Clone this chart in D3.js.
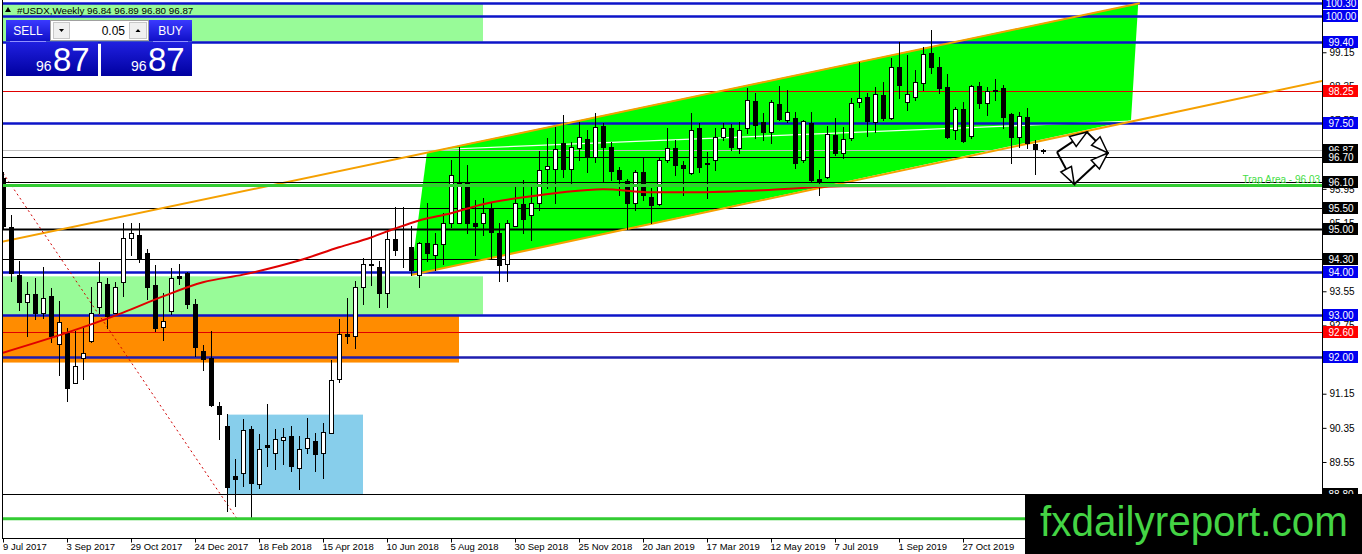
<!DOCTYPE html>
<html><head><meta charset="utf-8">
<script src="https://cdn.jsdelivr.net/npm/d3@7"></script>
<style>
html,body{margin:0;padding:0;background:#fff;overflow:hidden}
svg{display:block;font-family:"Liberation Sans",Arial,sans-serif}
</style></head><body>
<svg id="c" width="1362" height="554"></svg>
<script>
// ---------- DATA ----------
const symbolTitle = "#USDX,Weekly";
const lastQuote = [96.84, 96.89, 96.80, 96.87];
const tickDates = ["9 Jul 2017","3 Sep 2017","29 Oct 2017","24 Dec 2017","18 Feb 2018","15 Apr 2018","10 Jun 2018","5 Aug 2018","30 Sep 2018","25 Nov 2018","20 Jan 2019","17 Mar 2019","12 May 2019","7 Jul 2019","1 Sep 2019","27 Oct 2019"];
const tickEvery = 8;
const openP = [96.20,95.05,93.92,93.31,93.48,93.03,93.43,92.32,92.58,91.41,
91.99,92.39,93.19,93.73,93.05,93.76,94.81,94.86,94.44,93.69,
92.72,93.08,93.90,93.97,93.26,92.16,91.99,90.87,90.40,89.23,
89.30,90.33,89.04,89.95,89.77,90.07,90.17,89.41,89.88,90.05,
89.77,90.24,91.50,92.56,92.51,93.66,94.20,94.11,93.50,94.77,
94.48,94.58,93.94,94.67,94.41,94.65,95.16,95.16,96.10,95.14,
95.16,95.49,94.91,94.20,95.09,95.59,95.33,95.63,96.41,96.41,
97.02,96.41,96.90,97.11,96.69,97.42,96.93,96.39,96.13,95.61,
96.34,95.75,95.59,96.62,96.90,96.50,96.31,97.37,96.55,96.62,
97.16,97.37,96.90,97.37,98.01,97.51,97.28,97.93,97.56,97.61,
96.62,97.49,96.17,96.22,97.21,96.78,97.14,97.98,98.10,97.51,
98.15,97.61,98.80,97.98,98.10,98.43,99.13,98.80,98.33,97.33,
97.82,97.18,98.36,97.96,98.26,98.31,97.70,97.16,97.63,97.00,
96.84];
const highP = [96.34,95.33,94.27,93.76,93.87,94.11,93.62,93.33,92.70,92.63,
92.68,93.64,94.23,93.85,93.76,95.14,95.14,95.14,94.53,94.16,
93.50,94.09,94.20,93.99,93.38,92.28,92.63,90.96,90.68,89.63,
90.56,90.40,90.21,90.92,90.33,90.35,90.40,90.17,90.59,90.24,
90.47,91.93,92.89,93.40,93.80,94.32,95.02,94.27,94.98,95.52,
95.52,95.07,94.70,95.63,94.91,95.38,96.62,96.93,96.50,95.68,
95.73,95.61,95.16,95.21,96.03,96.15,96.01,96.83,97.14,97.39,
97.68,97.04,97.51,97.33,97.72,97.49,97.04,96.46,96.17,96.39,
96.67,95.96,96.67,97.37,97.09,96.60,97.72,97.49,96.81,97.37,
97.49,97.47,97.51,98.31,98.19,97.72,98.03,98.36,98.26,97.75,
97.56,97.75,96.39,97.42,97.61,97.39,98.08,98.92,98.19,98.33,
98.45,99.01,99.39,99.08,98.73,99.27,99.67,99.04,98.64,97.86,
97.98,98.38,98.45,98.33,98.52,98.38,97.72,97.75,97.84,97.09,
96.89];
const lowP = [95.02,93.80,93.10,92.51,92.91,92.93,92.37,91.60,90.99,91.39,
91.50,92.35,93.03,92.70,93.03,93.45,94.39,94.23,93.38,92.63,
92.41,93.01,93.73,93.15,92.04,91.71,90.87,90.09,88.40,88.52,
88.99,88.24,88.94,89.46,89.39,89.51,89.34,88.92,89.77,89.34,
89.18,90.24,91.43,92.33,92.23,93.26,93.69,93.17,93.17,94.39,
94.13,93.94,93.66,94.27,94.04,94.20,95.05,95.14,94.91,94.39,
94.86,94.32,93.80,93.80,95.07,94.91,94.74,95.45,95.96,95.63,
96.22,96.08,96.62,96.34,96.57,96.13,96.15,95.80,95.02,95.45,
95.68,95.14,95.56,96.57,96.27,95.80,96.29,96.34,95.73,96.39,
97.09,96.86,96.78,97.25,97.14,97.09,97.02,97.56,97.51,96.43,
96.57,96.10,95.80,96.20,96.74,96.67,97.09,97.86,97.18,97.28,
97.56,97.58,98.08,97.79,98.03,98.26,98.66,98.19,97.14,97.11,
97.04,97.14,97.84,97.68,98.03,97.37,96.55,96.92,96.90,96.29,
96.80];
const closeP = [95.09,93.97,93.29,93.48,93.05,93.40,92.51,92.82,91.29,91.81,
92.11,93.03,93.76,92.98,93.64,94.79,94.91,94.34,93.64,92.70,
92.86,93.87,93.85,93.26,92.25,91.97,90.89,90.68,88.97,89.16,
90.31,89.06,89.86,89.91,90.09,90.14,89.46,89.86,90.12,89.74,
90.26,91.48,92.54,92.51,93.64,94.20,94.16,93.52,94.77,94.51,
94.46,94.04,94.67,94.44,94.65,95.16,96.27,96.08,95.14,95.09,
95.38,94.93,94.16,95.16,95.61,95.24,95.63,96.39,96.48,96.88,
96.41,96.93,97.16,96.69,97.39,96.93,96.36,96.17,95.63,96.34,
95.80,95.56,96.62,96.90,96.50,96.43,97.33,96.46,96.53,97.16,
97.37,96.93,97.33,98.03,97.44,97.28,97.98,97.58,97.75,96.55,
97.54,96.15,96.13,97.23,96.78,97.11,97.96,98.08,97.54,98.17,
97.61,98.80,98.38,98.17,98.45,99.11,98.80,98.31,97.16,97.82,
97.07,98.36,97.96,98.24,98.24,97.63,97.16,97.65,97.02,96.88,
96.87];
// moving average (bar index, value)
const maIdx = [0,8,15,20,25,30,37,42,46,49,52,56,60,67,70,75,81,87,95,105,130];
const maVal = [92.11,92.58,93.05,93.43,93.76,93.94,94.27,94.58,94.81,95.02,95.21,95.38,95.59,95.80,95.87,95.94,95.87,95.87,95.92,96.01,96.02];
// default price-scale ticks
const axisTicks = [99.15,98.35,97.55,96.75,95.95,95.15,94.35,93.55,92.75,91.95,91.15,90.35,89.55,88.75];
// horizontal levels
const levelPrices = [100.30,100.00,99.40,98.25,97.50,96.70,96.10,95.50,95.00,94.30,94.00,93.00,92.60,92.00,88.80];
const levelKinds  = ["blue","blue","blue","red","blue","black","black","black","blackBold","black","blue","blue","red","navy","black"];
const trapLevel = 96.03, trapText = "Trap Area - 96.03";
const bottomGreenLevel = 88.22;
// zones: [startBar, endBar, topPrice, bottomPrice]
const zoneStart  = [-1, -1, -1, 28];
const zoneEnd    = [60, 60, 57, 45];
const zoneTop    = [100.30, 93.90, 93.00, 90.66];
const zoneBottom = [99.40, 93.00, 91.88, 88.80];
const zoneKinds  = ["pale","pale","orange","sky"];
// channel (bar, price)
const channelPoly = [[53,96.81],[141.9,100.30],[141,97.56],[51,93.93]];
const upperTrend = [[-0.375,94.70],[142.1,100.30]];
const lowerTrend = [[51,93.93],[164.9,98.48]];
const midTrend = [[53,96.86],[141,97.54]];
const dottedTrend = [[0,96.32],[29.25,88.22]];
// projection arrows
const projPts = {L:[131.75,96.81], T:[135.5,97.28], R:[138.1,96.79], B:[133.9,96.06]};
const projPaths = [["L","T"],["T","R"],["L","B"],["B","R"]];

// ---------- SETUP ----------
const svg = d3.select("#c");
const W = 1362, H = 554, plotL = 2, plotR = 1322, plotB = 538;
const x = d3.scaleLinear().domain([0,130]).range([3,1043]);
const y = d3.scaleLinear().domain([88.80,100.00]).range([494,16]);
const col = {blue:"#0c14c8", navy:"#1e1eb0", red:"#e00000", black:"#000", blackBold:"#000"};
const boxCol = {blue:"#0000f0", navy:"#0000f0", red:"#ff0000", black:"#000", blackBold:"#000"};
const zoneCol = {pale:"#98fb98", orange:"#ff8c00", sky:"#87ceeb"};

svg.append("rect").attr("width",W).attr("height",H).attr("fill","#fff");
const defs = svg.append("defs");
defs.append("clipPath").attr("id","plot").append("rect")
  .attr("x",plotL).attr("y",0).attr("width",plotR-plotL).attr("height",plotB);
const mk = defs.append("marker").attr("id","ah").attr("markerUnits","userSpaceOnUse")
  .attr("markerWidth",24).attr("markerHeight",24).attr("refX",0).attr("refY",0)
  .attr("viewBox","-20 -10 24 20").attr("orient","auto");
mk.append("path").attr("d","M0,0 L-17,-6 L-17,6 Z").attr("fill","#fff").attr("stroke","#000").attr("stroke-width",1.5);

const g = svg.append("g").attr("clip-path","url(#plot)");

// zones
zoneStart.forEach((s,i)=>{
  g.append("rect").attr("x",x(s)).attr("y",y(zoneTop[i]))
   .attr("width",x(zoneEnd[i])-x(s)).attr("height",y(zoneBottom[i])-y(zoneTop[i]))
   .attr("fill",zoneCol[zoneKinds[i]]);
});
// channel fill
g.append("path").attr("d", d3.line().x(d=>x(d[0])).y(d=>y(d[1]))(channelPoly)+"Z").attr("fill","#00ff00");
// mid white line
g.append("path").attr("d", d3.line().x(d=>x(d[0])).y(d=>y(d[1]))(midTrend)).attr("stroke","#f4fff4").attr("stroke-width",1.2).attr("fill","none");

const maPath = d3.line().x(d=>x(d[0])).y(d=>y(d[1])).curve(d3.curveMonotoneX);

// horizontal levels
const hl = (p,c,w)=> g.append("line").attr("x1",plotL).attr("x2",plotR)
  .attr("y1",Math.round(y(p))+0.5).attr("y2",Math.round(y(p))+0.5).attr("stroke",c).attr("stroke-width",w);
hl(lastQuote[3],"#c0c0c0",1);
levelPrices.forEach((p,i)=>{
  const k = levelKinds[i];
  hl(p, col[k], (k==="blue"||k==="navy")?2.5:(k==="blackBold"?2:1));
});

// trend lines
const tl = d3.line().x(d=>x(d[0])).y(d=>y(d[1]));
g.append("path").attr("d",tl(upperTrend)).attr("stroke","#f5a000").attr("stroke-width",2).attr("fill","none");
g.append("path").attr("d",tl(lowerTrend)).attr("stroke","#f5a000").attr("stroke-width",2).attr("fill","none");
g.append("path").attr("d",tl(dottedTrend)).attr("stroke","#d00000").attr("stroke-width",1).attr("stroke-dasharray","2,3").attr("fill","none");

// candles
const cg = g.append("g");
openP.forEach((o,i)=>{
  const h=highP[i], l=lowP[i], c=closeP[i];
  const cx = Math.round(x(i))+0.5;
  cg.append("line").attr("x1",cx).attr("x2",cx).attr("y1",Math.round(y(h))).attr("y2",Math.round(y(l))+1).attr("stroke","#000");
  const top = Math.round(y(Math.max(o,c)))+0.5, bot = Math.round(y(Math.min(o,c)))+0.5;
  const bull = c>o;
  cg.append("rect").attr("x",cx-2).attr("y",top).attr("width",4).attr("height",Math.max(0,bot-top))
    .attr("fill",bull?"#fff":"#000").attr("stroke","#000").attr("stroke-width",1);
});

// moving average
g.append("path").datum(maIdx.map((d,i)=>[d,maVal[i]]))
  .attr("d", maPath)
  .attr("stroke","#e00000").attr("stroke-width",2).attr("fill","none");

// green levels on top of MA
hl(trapLevel,"#33cc33",3);
g.append("line").attr("x1",plotL).attr("x2",1030).attr("y1",y(bottomGreenLevel)).attr("y2",y(bottomGreenLevel)).attr("stroke","#33cc33").attr("stroke-width",3);
hl(96.10,"#000",1);

// projection arrows
projPaths.forEach(([a,b])=>{
  const p1=projPts[a], p2=projPts[b];
  g.append("line").attr("x1",x(p1[0])).attr("y1",y(p1[1])).attr("x2",x(p2[0])).attr("y2",y(p2[1]))
   .attr("stroke","#000").attr("stroke-width",2).attr("marker-end","url(#ah)");
});

// trap text
svg.append("text").attr("x",1320).attr("y",y(trapLevel)-2).attr("text-anchor","end")
  .attr("font-size",10).attr("fill","#44dd44").text(trapText);

// ---------- AXES ----------
svg.append("line").attr("x1",plotR+0.5).attr("x2",plotR+0.5).attr("y1",0).attr("y2",plotB).attr("stroke","#000");
svg.append("line").attr("x1",plotL+0.5).attr("x2",plotL+0.5).attr("y1",0).attr("y2",plotB).attr("stroke","#000");
svg.append("line").attr("x1",plotL).attr("x2",plotR+1).attr("y1",plotB+0.5).attr("y2",plotB+0.5).attr("stroke","#000");
const ya = svg.append("g").attr("transform",`translate(${plotR+0.5},0)`)
  .call(d3.axisRight(y).tickValues(axisTicks).tickFormat(d3.format(".2f")).tickSize(4).tickPadding(3));
ya.select(".domain").remove();
ya.selectAll("text").attr("font-size",10).attr("font-family","Liberation Sans, Arial, sans-serif").attr("fill","#000");
ya.selectAll("line").attr("stroke","#000");

const xa = svg.append("g").attr("transform",`translate(0,${plotB+0.5})`)
  .call(d3.axisBottom(x).tickValues(tickDates.map((d,i)=>i*tickEvery)).tickFormat(i=>tickDates[i/tickEvery]).tickSize(4).tickPadding(1));
xa.select(".domain").remove();
xa.selectAll("text").attr("font-size",9.5).attr("font-family","Liberation Sans, Arial, sans-serif").attr("fill","#000")
  .attr("text-anchor","start").attr("dx",(d,i)=>i===0?-0.5:-1);
xa.selectAll("line").attr("stroke","#000");

// level label boxes
const box = (p,bg)=>{
  const yy = y(p);
  svg.append("rect").attr("x",plotR+1).attr("y",Math.round(yy)-6).attr("width",35).attr("height",12).attr("fill",bg);
  svg.append("text").attr("x",plotR+19).attr("y",Math.round(yy)+4).attr("text-anchor","middle")
    .attr("font-size",10).attr("fill","#fff").text(d3.format(".2f")(p));
};
box(lastQuote[3],"#000");
levelPrices.forEach((p,i)=>box(p, boxCol[levelKinds[i]]));

// ---------- HEADER & PANEL ----------
svg.append("path").attr("d","M5,12 L8,7 L11,12 Z").attr("fill","#000");
svg.append("text").attr("x",17).attr("y",14).attr("font-size",9.8).attr("fill","#000")
  .text(symbolTitle+"  "+lastQuote.map(d3.format(".2f")).join(" "));

const gr1 = defs.append("linearGradient").attr("id","btn").attr("x1",0).attr("y1",0).attr("x2",0).attr("y2",1);
gr1.append("stop").attr("offset",0).attr("stop-color","#3a3aff");
gr1.append("stop").attr("offset",1).attr("stop-color","#1010c8");
const gr2 = defs.append("linearGradient").attr("id","pbx").attr("x1",0).attr("y1",0).attr("x2",0).attr("y2",1);
gr2.append("stop").attr("offset",0).attr("stop-color","#2020e0");
gr2.append("stop").attr("offset",1).attr("stop-color","#0000a0");

const panel = svg.append("g");
panel.append("rect").attr("x",6).attr("y",20).attr("width",44).attr("height",21).attr("fill","url(#btn)");
panel.append("text").attr("x",28).attr("y",35).attr("text-anchor","middle").attr("font-size",12).attr("fill","#fff").text("SELL");
panel.append("rect").attr("x",50.5).attr("y",20.5).attr("width",98).attr("height",20).attr("fill","#fff").attr("stroke","#a0a0a0");
panel.append("rect").attr("x",53.5).attr("y",22.5).attr("width",16).attr("height",16).attr("fill","#f0f0f0").attr("stroke","#c8c8c8");
panel.append("path").attr("d","M59,29 L64,29 L61.5,32 Z").attr("fill","#000");
panel.append("rect").attr("x",129.5).attr("y",22.5).attr("width",17).attr("height",16).attr("fill","#f0f0f0").attr("stroke","#c8c8c8");
panel.append("path").attr("d","M135.5,32 L140.5,32 L138,29 Z").attr("fill","#000");
panel.append("text").attr("x",125).attr("y",35).attr("text-anchor","end").attr("font-size",12).attr("fill","#000").text("0.05");
panel.append("rect").attr("x",149).attr("y",20).attr("width",43).attr("height",21).attr("fill","url(#btn)");
panel.append("text").attr("x",170.5).attr("y",35).attr("text-anchor","middle").attr("font-size",12).attr("fill","#fff").text("BUY");
panel.append("line").attr("x1",10).attr("x2",46).attr("y1",41.5).attr("y2",41.5).attr("stroke","#9090ff");
panel.append("line").attr("x1",153).attr("x2",188).attr("y1",41.5).attr("y2",41.5).attr("stroke","#9090ff");
[[6,92],[101,91]].forEach(([bx,bw])=>{
  panel.append("rect").attr("x",bx).attr("y",42).attr("width",bw).attr("height",34).attr("fill","url(#pbx)");
});
const big = d3.format(".2f")(lastQuote[3]).split(".");
[[36,53],[131,148]].forEach(([sx,lx])=>{
  panel.append("text").attr("x",sx).attr("y",71).attr("font-size",14).attr("fill","#fff").text(big[0]);
  panel.append("text").attr("x",lx).attr("y",71).attr("font-size",33).attr("fill","#fff").text(big[1]);
});

// watermark
svg.append("rect").attr("x",1025).attr("y",494).attr("width",337).attr("height",60).attr("fill","#000");
svg.append("text").attr("x",1040).attr("y",536).attr("font-size",43).attr("fill","#44d444")
  .attr("textLength",308).attr("lengthAdjust","spacingAndGlyphs").text("fxdailyreport.com");
</script>
</body></html>
